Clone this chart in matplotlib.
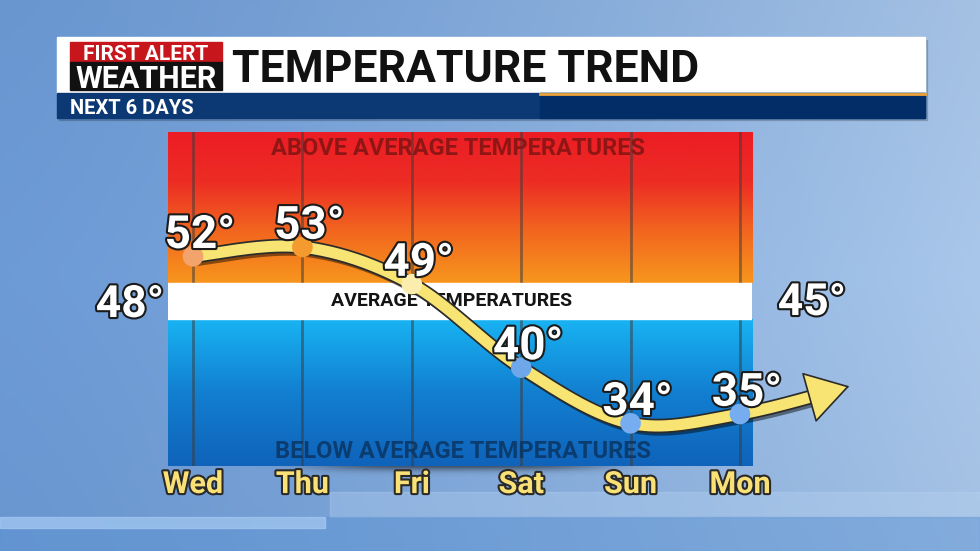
import numpy as np
import matplotlib
matplotlib.use('Agg')
import matplotlib.pyplot as plt
import matplotlib.patheffects as pe
from matplotlib.colors import LinearSegmentedColormap, to_rgb
from matplotlib.patches import Rectangle

plt.rcParams['font.family'] = ['Roboto', 'DejaVu Sans']

# data
days = ['Wed', 'Thu', 'Fri', 'Sat', 'Sun', 'Mon']
highs = [52, 53, 49, 40, 34, 35]
trend_end = 38          # where the trend arrow points, one day past Mon
avg_start, avg_end = 48, 45
marker_colors = ['#f3a36c', '#f59a2f', '#fbedae', '#6fa8ea', '#76adf0', '#76adf0']

title = 'TEMPERATURE TREND'
subtitle = 'NEXT 6 DAYS'

W, H = 980, 551
fig = plt.figure(figsize=(W / 100, H / 100), dpi=100)

# full-figure axes in pixel units for the backdrop and header
bg = fig.add_axes([0, 0, 1, 1])
bg.set_xlim(0, W)
bg.set_ylim(H, 0)
bg.axis('off')

left_c = np.array(to_rgb('#6d9bd6'))
right_c = np.array(to_rgb('#a9c7ea'))
gx = np.linspace(0, 1, 200) ** 1.3
gy = np.linspace(0, 1, 100)
sky = left_c[None, None, :] * (1 - gx[None, :, None]) + right_c[None, None, :] * gx[None, :, None]
sky = sky * (1 - 0.06 * np.abs(gy - 0.5)[:, None, None])
bg.imshow(np.clip(sky, 0, 1), extent=(0, W, H, 0), aspect='auto', zorder=0)
bg.add_patch(Rectangle((330, 492), 650, 25, color='#b8d4f2', alpha=0.35, zorder=1))
bg.add_patch(Rectangle((0, 517), W, 34, color='#5b93d4', alpha=0.45, zorder=1))
bg.add_patch(Rectangle((0, 517), 325, 11, color='#a8cbf2', alpha=0.7, zorder=1))

# header
bg.add_patch(Rectangle((59, 40), 868, 80, color='black', alpha=0.15, zorder=2))
bg.add_patch(Rectangle((57, 37), 868, 56, color='white', zorder=3))
bg.add_patch(Rectangle((57, 93), 868, 25, color='#0c3874', zorder=3))
bg.add_patch(Rectangle((540, 93), 385, 25, color='#032d66', zorder=3))
bg.plot([540, 925], [93.5, 93.5], color='#efa43a', lw=2, zorder=4)
bg.add_patch(Rectangle((70, 42), 152, 20, color='#c8161d', zorder=4))
bg.add_patch(Rectangle((70, 62), 152, 28, color='#111111', zorder=4))
bg.text(146, 60, 'FIRST ALERT', color='white', fontsize=15, fontweight='bold',
        ha='center', va='baseline', zorder=5)
bg.text(146, 88, 'WEATHER', color='white', fontsize=22, fontweight='bold',
        ha='center', va='baseline', zorder=5)
bg.text(232, 82, title, color='#111111', fontsize=32, fontweight='bold',
        ha='left', va='baseline', zorder=5)
bg.text(70, 114, subtitle, color='white', fontsize=14.5, fontweight='bold',
        ha='left', va='baseline', zorder=5)

outline = [pe.withStroke(linewidth=3, foreground='#1b1b1b')]
bg.text(130, 317, f'{avg_start}°', color='white', fontsize=32, fontweight='bold',
        ha='center', va='baseline', path_effects=outline, zorder=5)
bg.text(812, 315, f'{avg_end}°', color='white', fontsize=32, fontweight='bold',
        ha='center', va='baseline', path_effects=outline, zorder=5)

# soft shadow under the chart's bottom edge
sx = np.linspace(-1, 1, 200)
sy = np.linspace(0, 1, 20)
shade = np.exp(-(sx[None, :] / 0.55) ** 4) * np.exp(-(sy[:, None] / 0.45) ** 2) * 0.55
shadow = np.zeros((20, 200, 4))
shadow[..., 3] = shade
bg.imshow(shadow, extent=(200, 720, 478, 464), aspect='auto', zorder=2)

# chart area
ax = fig.add_axes([168 / W, 1 - 466 / H, 584 / W, 334 / H])
x0, x1 = -0.2285, 5.11
y0, y1 = 29.4, 65.4
band_lo, band_hi = 45.2, 49.1
ax.set_xlim(x0, x1)
ax.set_ylim(y0, y1)
ax.axis('off')

warm = LinearSegmentedColormap.from_list('warm', ['#f7961d', '#f2671f', '#ec2d24', '#ec1c24'])
cool = LinearSegmentedColormap.from_list('cool', ['#0f63ba', '#127fd0', '#18b3f3'])
grad = np.linspace(0, 1, 256)[:, None]
ax.imshow(grad, cmap=warm, origin='lower', extent=(x0, x1, band_hi, y1), aspect='auto', zorder=0)
ax.imshow(grad, cmap=cool, origin='lower', extent=(x0, x1, y0, band_lo), aspect='auto', zorder=0)
for i in range(len(days)):
    ax.axvline(i, color='#3c3c3c', alpha=0.55, lw=2, zorder=1)
ax.axhspan(band_lo, band_hi, color='white', zorder=2)

ax.text(0.497, 0.952, 'ABOVE AVERAGE TEMPERATURES', transform=ax.transAxes, ha='center',
        va='center', fontsize=17, fontweight='bold', color='#861515', alpha=0.9, zorder=3)
ax.text(0.485, (47.15 - y0) / (y1 - y0), 'AVERAGE TEMPERATURES', transform=ax.transAxes,
        ha='center', va='center', fontsize=14, fontweight='bold', color='#141414', zorder=3)
ax.text(0.505, 0.042, 'BELOW AVERAGE TEMPERATURES', transform=ax.transAxes, ha='center',
        va='center', fontsize=17, fontweight='bold', color='#0b3563', alpha=0.85, zorder=3)

# smooth trend line (Catmull-Rom through the highs and the arrow tip)
px = np.arange(len(days) + 1, dtype=float)
py = np.array(highs + [trend_end], dtype=float)
P = np.column_stack([px, py])
P = np.vstack([P[0], P, P[-1]])
curve = []
t = np.linspace(0, 1, 40)[:, None]
for k in range(1, len(P) - 2):
    p0, p1, p2, p3 = P[k - 1], P[k], P[k + 1], P[k + 2]
    seg = 0.5 * (2 * p1 + (-p0 + p2) * t + (2 * p0 - 5 * p1 + 4 * p2 - p3) * t ** 2
                 + (-p0 + 3 * p1 - 3 * p2 + p3) * t ** 3)
    curve.append(seg)
curve = np.vstack(curve)

# stop the thick line where the arrow head begins
disp = ax.transData.transform(curve)
tip = disp[-1]
dist = np.hypot(*(disp - tip).T)
line = curve[dist > 28]
base = line[-1]

yellow = '#f8e472'
ax.plot(line[:, 0], line[:, 1], color=yellow, lw=8, solid_capstyle='butt', zorder=4,
        clip_on=False,
        path_effects=[pe.SimpleLineShadow(offset=(2, -3), alpha=0.45),
                      pe.Stroke(linewidth=10.5, foreground='#2b2b2b'), pe.Normal()])
ax.annotate('', xy=(px[-1], trend_end), xytext=(base[0], base[1]),
            arrowprops=dict(arrowstyle='-|>,head_length=1.3,head_width=0.8',
                            fc=yellow, ec='#2b2b2b', lw=1.2, mutation_scale=22,
                            shrinkA=0, shrinkB=0),
            zorder=5, annotation_clip=False)

ax.scatter(range(len(days)), highs, s=220, c=marker_colors, zorder=6, clip_on=False,
           linewidths=0)
for i, v in enumerate(highs):
    ax.annotate(f'{v}°', (i, v), xytext=(5, 6), textcoords='offset points', ha='center',
                va='baseline', fontsize=33, fontweight='bold', color='white',
                path_effects=outline, zorder=7, annotation_clip=False)

for i, d in enumerate(days):
    ax.text(i, -0.081, d, transform=ax.get_xaxis_transform(), ha='center', va='baseline',
            fontsize=22, fontweight='bold', color='#f9e176', clip_on=False,
            path_effects=[pe.withStroke(linewidth=3, foreground='#2a2a2a')], zorder=7)

fig.savefig('out.png', dpi=100)
